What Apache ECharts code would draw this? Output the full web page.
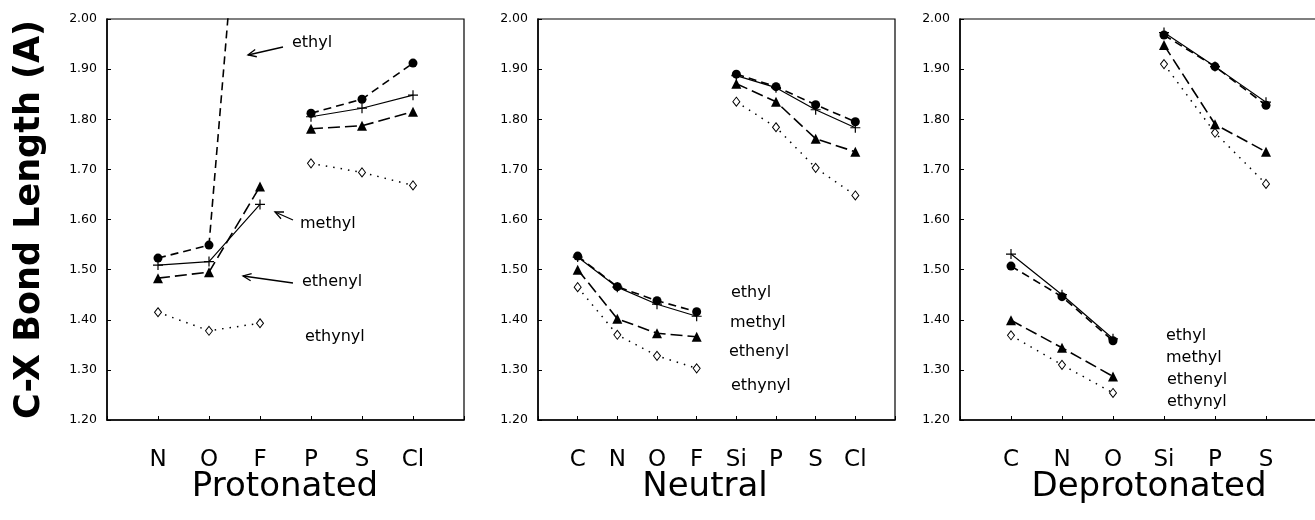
<!DOCTYPE html>
<html>
<head>
<meta charset="utf-8">
<script src="https://cdn.jsdelivr.net/npm/echarts@6/dist/echarts.min.js"></script>
<style>
  html, body { margin: 0; padding: 0; background: #fff; }
  #content { width: 1315px; height: 520px; }
</style>
</head>
<body>
<div id="content"></div>
<script>
// 三个面板的类别（原子）
var protCats = ['N', 'O', 'F', 'P', 'S', 'Cl'];
var neutCats = ['C', 'N', 'O', 'F', 'Si', 'P', 'S', 'Cl'];
var deprCats = ['C', 'N', 'O', 'Si', 'P', 'S'];

// 第二行元素开始的位置（两段线之间断开）
var protSplit = 3;
var neutSplit = 4;
var deprSplit = 3;

// Protonated
var protEthyl = [1.523, 1.549, 2.77, 1.812, 1.840, 1.912];
var protMethyl = [1.509, 1.516, 1.630, 1.805, 1.822, 1.848];
var protEthenyl = [1.483, 1.495, 1.666, 1.781, 1.787, 1.815];
var protEthynyl = [1.415, 1.378, 1.393, 1.712, 1.694, 1.668];

// Neutral
var neutEthyl = [1.527, 1.466, 1.438, 1.416, 1.890, 1.865, 1.829, 1.795];
var neutMethyl = [1.525, 1.465, 1.431, 1.407, 1.887, 1.863, 1.819, 1.783];
var neutEthenyl = [1.500, 1.402, 1.373, 1.366, 1.871, 1.835, 1.761, 1.735];
var neutEthynyl = [1.465, 1.370, 1.328, 1.303, 1.835, 1.784, 1.703, 1.648];

// Deprotonated
var deprEthyl = [1.507, 1.446, 1.358, 1.968, 1.905, 1.828];
var deprMethyl = [1.531, 1.450, 1.362, 1.973, 1.905, 1.834];
var deprEthenyl = [1.399, 1.344, 1.287, 1.948, 1.790, 1.735];
var deprEthynyl = [1.369, 1.310, 1.254, 1.910, 1.773, 1.671];

var yTicks = [1.2, 2.0, 0.1]; // min, max, interval
var panelNames = ['Protonated', 'Neutral', 'Deprotonated'];

var plusPath = 'path://M0,4.4 L10,4.4 L10,5.6 L0,5.6 Z M4.4,0 L5.6,0 L5.6,10 L4.4,10 Z';

// 每种取代基的样式
var styles = {
    ethynyl: { symbol: 'diamond', size: [7, 9], type: [1.5, 6], width: 1.5, color: '#fff', border: 1 },
    ethenyl: { symbol: 'triangle', size: 10, type: [12, 5], width: 1.6, color: '#000', border: 0 },
    methyl: { symbol: plusPath, size: 10, type: 'solid', width: 1.2, color: '#000', border: 0 },
    ethyl: { symbol: 'circle', size: 9, type: [8, 5], width: 1.6, color: '#000', border: 0 }
};

var panels = [
    { cats: protCats, split: protSplit, left: 107, rows: { ethyl: protEthyl, methyl: protMethyl, ethenyl: protEthenyl, ethynyl: protEthynyl } },
    { cats: neutCats, split: neutSplit, left: 538, rows: { ethyl: neutEthyl, methyl: neutMethyl, ethenyl: neutEthenyl, ethynyl: neutEthynyl } },
    { cats: deprCats, split: deprSplit, left: 960, rows: { ethyl: deprEthyl, methyl: deprMethyl, ethenyl: deprEthenyl, ethynyl: deprEthynyl } }
];

var font = 'DejaVu Sans';
var grids = [], xAxes = [], yAxes = [], series = [];

panels.forEach(function(p, pi) {
    grids.push({
        left: p.left, top: 19, width: 357, height: 401,
        outerBoundsMode: 'none', containLabel: false,
        show: true, borderColor: '#000', borderWidth: 1.2
    });
    xAxes.push({
        type: 'category',
        gridIndex: pi,
        data: [''].concat(p.cats).concat(['']),
        boundaryGap: false,
        axisLine: { lineStyle: { color: '#000', width: 1.5 } },
        axisTick: { inside: true, length: 4, lineStyle: { color: '#000' } },
        axisLabel: { color: '#000', fontFamily: font, fontSize: 23, margin: 29, interval: 0 },
        splitLine: { show: false }
    });
    yAxes.push({
        type: 'value',
        gridIndex: pi,
        min: yTicks[0],
        max: yTicks[1],
        interval: yTicks[2],
        axisLine: { show: true, lineStyle: { color: '#000', width: 1.5 } },
        axisTick: { show: true, inside: true, length: 4, lineStyle: { color: '#000' } },
        axisLabel: {
            color: '#000', fontFamily: font, fontSize: 12.5, margin: 10,
            formatter: function(v) { return v.toFixed(2); }
        },
        splitLine: { show: false },
        name: pi === 0 ? 'C-X Bond Length (A)' : '',
        nameLocation: 'middle',
        nameRotate: 90,
        nameGap: 60,
        nameTextStyle: { color: '#000', fontFamily: font, fontSize: 35, fontWeight: 'bold' }
    });

    // 每个取代基分成两段（第一周期 / 第二周期）
    ['ethynyl', 'ethenyl', 'methyl', 'ethyl'].forEach(function(name) {
        var vals = p.rows[name];
        var st = styles[name];
        [[0, p.split], [p.split, vals.length]].forEach(function(seg) {
            var data = [];
            for (var i = seg[0]; i < seg[1]; i++) {
                data.push([i + 1, vals[i]]);
            }
            series.push({
                type: 'line',
                name: name,
                xAxisIndex: pi,
                yAxisIndex: pi,
                data: data,
                clip: true,
                symbol: st.symbol,
                symbolSize: st.size,
                showAllSymbol: true,
                lineStyle: { color: '#000', width: st.width, type: st.type },
                itemStyle: { color: st.color, borderColor: '#000', borderWidth: st.border, opacity: 1 },
                emphasis: { disabled: true },
                z: 2
            });
        });
    });
});

// 文字标注
function label(text, x, y) {
    return {
        type: 'text', left: x, top: y - 8,
        style: { text: text, fill: '#000', font: '16px "DejaVu Sans"' }
    };
}

// 箭头（从 tail 指向 head）
function arrow(x1, y1, x2, y2) {
    var a = Math.atan2(y1 - y2, x1 - x2);
    var len = 9, sp = 0.42;
    return {
        type: 'group',
        children: [
            { type: 'line', shape: { x1: x1, y1: y1, x2: x2, y2: y2 }, style: { stroke: '#000', lineWidth: 1.3 } },
            {
                type: 'polyline',
                shape: { points: [
                    [x2 + len * Math.cos(a + sp), y2 + len * Math.sin(a + sp)],
                    [x2, y2],
                    [x2 + len * Math.cos(a - sp), y2 + len * Math.sin(a - sp)]
                ] },
                style: { stroke: '#000', lineWidth: 1.3, fill: null }
            }
        ]
    };
}

var graphics = [
    label('ethyl', 292, 43), label('methyl', 300, 224), label('ethenyl', 302, 282), label('ethynyl', 305, 337),
    arrow(283, 47, 248, 55), arrow(293, 220, 275, 212), arrow(293, 283, 243, 276),
    label('ethyl', 731, 293), label('methyl', 730, 323), label('ethenyl', 729, 352), label('ethynyl', 731, 386),
    label('ethyl', 1166, 336), label('methyl', 1166, 358), label('ethenyl', 1167, 380), label('ethynyl', 1167, 402)
];

// 面板标题
var titleX = [285, 705, 1149];
panelNames.forEach(function(n, i) {
    graphics.push({
        type: 'text', x: titleX[i], y: 487,
        style: { text: n, fill: '#000', font: '34px "DejaVu Sans"', align: 'center', verticalAlign: 'middle' }
    });
});

var myChart = echarts.init(document.getElementById('content'));
myChart.setOption({
    animation: false,
    backgroundColor: '#fff',
    grid: grids,
    xAxis: xAxes,
    yAxis: yAxes,
    series: series,
    graphic: graphics
});
</script>
</body>
</html>
